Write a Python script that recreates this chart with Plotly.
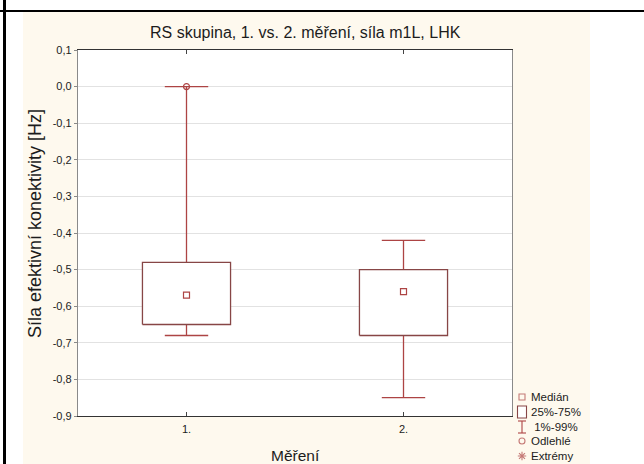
import plotly.graph_objects as go

# --- data -------------------------------------------------------------
categories = ["1.", "2."]
cat_pos = [1, 2]
q1 = [-0.65, -0.68]
q3 = [-0.48, -0.50]
median = [-0.57, -0.56]
whisker_low = [-0.68, -0.85]
whisker_high = [0.00, -0.42]
outlier_pos = [1]
outlier_val = [0.00]

ytick_vals = [0.1, 0.0, -0.1, -0.2, -0.3, -0.4, -0.5, -0.6, -0.7, -0.8, -0.9]
ytick_labels = ["0,1", "0,0", "-0,1", "-0,2", "-0,3", "-0,4", "-0,5",
                "-0,6", "-0,7", "-0,8", "-0,9"]

legend_labels = ["Medián", "25%-75%", " 1%-99%", "Odlehlé", "Extrémy"]

# --- styling ----------------------------------------------------------
W, H = 644, 464
PL, PR, PT, PB = 78, 512, 50, 416          # plot area edges in pixels
FONT = "Liberation Sans, Arial, sans-serif"
TXT = "#1c1c1c"
BOX_C = "#874646"
WHISK_C = "#ad4444"
CREAM = "#fef9ee"
box_half = 0.203
cap_half = 0.10


def px(x):
    return x / W


def py(y):
    return 1 - y / H


fig = go.Figure()

# whiskers with caps
for c, lo, hi, a, b in zip(cat_pos, whisker_low, whisker_high, q1, q3):
    fig.add_trace(go.Scatter(
        x=[c, c, None, c, c, None, c - cap_half, c + cap_half, None,
           c - cap_half, c + cap_half],
        y=[b, hi, None, a, lo, None, hi, hi, None, lo, lo],
        mode="lines", line=dict(color=WHISK_C, width=1.3),
        hoverinfo="skip", showlegend=False))

# 25%-75% boxes
for c, a, b in zip(cat_pos, q1, q3):
    fig.add_trace(go.Scatter(
        x=[c - box_half, c + box_half, c + box_half, c - box_half, c - box_half],
        y=[a, a, b, b, a],
        mode="lines", fill="toself", fillcolor="white",
        line=dict(color=BOX_C, width=1.3),
        hoverinfo="skip", showlegend=False))

# medians
fig.add_trace(go.Scatter(
    x=cat_pos, y=median, mode="markers",
    marker=dict(symbol="square-open", size=6, color=WHISK_C,
                line=dict(width=1.2, color=WHISK_C)),
    showlegend=False))

# outliers
fig.add_trace(go.Scatter(
    x=outlier_pos, y=outlier_val, mode="markers",
    marker=dict(symbol="circle-open", size=6, color=WHISK_C,
                line=dict(width=1.2, color=WHISK_C)),
    showlegend=False))

# --- key, drawn on a full-page axis pair measured in pixels ------------
kx = 522
ky = [397, 412, 427, 441, 456]
fig.add_trace(go.Scatter(
    x=[kx, kx, kx], y=[ky[0], ky[3], ky[4]], mode="markers",
    xaxis="x2", yaxis="y2",
    marker=dict(symbol=["square-open", "circle-open", "asterisk-open"],
                size=[6, 6, 7], color=WHISK_C,
                line=dict(width=1.1, color=WHISK_C)),
    hoverinfo="skip", showlegend=False))
fig.add_trace(go.Scatter(
    x=[kx, kx, None, kx - 4, kx + 4, None, kx - 4, kx + 4],
    y=[ky[2] - 6, ky[2] + 6, None, ky[2] - 6, ky[2] - 6, None,
       ky[2] + 6, ky[2] + 6],
    mode="lines", xaxis="x2", yaxis="y2",
    line=dict(color=WHISK_C, width=1.1), hoverinfo="skip", showlegend=False))

shapes = [
    # cream page, white plot area
    dict(type="rect", xref="paper", yref="paper",
         x0=px(23), x1=px(590), y0=0, y1=py(12),
         fillcolor=CREAM, line=dict(width=0), layer="below"),
    dict(type="rect", xref="paper", yref="paper",
         x0=px(PL), x1=px(PR), y0=py(PB), y1=py(PT),
         fillcolor="white", line=dict(width=0), layer="below"),
    # frame lines of the page
    dict(type="line", xref="paper", yref="paper",
         x0=0, x1=1, y0=py(11), y1=py(11),
         line=dict(color="black", width=2)),
    dict(type="line", xref="paper", yref="paper",
         x0=px(4.5), x1=px(4.5), y0=0, y1=1,
         line=dict(color="black", width=3)),
    # key box symbol
    dict(type="rect", xref="x2", yref="y2", x0=517.5, x1=526.5,
         y0=ky[1] - 6, y1=ky[1] + 6, line=dict(color=BOX_C, width=1.1),
         fillcolor="white"),
]


def label(x, y, text, size, **kw):
    d = dict(x=px(x), y=py(y), xref="paper", yref="paper", text=text,
             showarrow=False, xanchor="center", yanchor="middle",
             font=dict(family=FONT, size=size, color=TXT))
    d.update(kw)
    return d


annotations = [
    label(305, 33, "RS skupina, 1. vs. 2. měření, síla m1L, LHK", 16),
    label(35, 224, "Síla efektivní konektivity [Hz]", 18, textangle=-90),
    label(295, 455, "Měření", 15.5),
]
for lab, yy in zip(legend_labels, ky):
    annotations.append(label(529, yy, lab, 11.5, xanchor="left"))

fig.update_layout(
    template="none",
    width=W, height=H,
    margin=dict(l=0, r=0, t=0, b=0, pad=0),
    paper_bgcolor="white", plot_bgcolor="rgba(0,0,0,0)",
    font=dict(family=FONT, size=11, color=TXT),
    shapes=shapes, annotations=annotations,
    xaxis=dict(domain=[px(PL), px(PR)], range=[0.5, 2.5],
               tickvals=cat_pos, ticktext=categories,
               showgrid=False, zeroline=False, automargin=False,
               showline=True, linecolor="#333333", linewidth=1.3, mirror="ticks",
               ticks="inside", ticklen=4, tickcolor="#444444",
               ticklabelstandoff=3,
               tickfont=dict(size=11, color=TXT)),
    yaxis=dict(domain=[py(PB), py(PT)], range=[-0.9, 0.1],
               tickvals=ytick_vals, ticktext=ytick_labels,
               showgrid=True, gridcolor="#e2e2e2", gridwidth=1, zeroline=False,
               automargin=False,
               showline=True, linecolor="#8a8a8a", linewidth=1.3, mirror=True,
               ticks="outside", ticklen=3, tickcolor="#888888",
               tickfont=dict(size=11, color=TXT)),
    xaxis2=dict(domain=[0, 1], range=[0, W], visible=False, anchor="y2",
                fixedrange=True),
    yaxis2=dict(domain=[0, 1], range=[H, 0], visible=False, anchor="x2",
                fixedrange=True),
    showlegend=False,
)

fig.write_html("out.html")
